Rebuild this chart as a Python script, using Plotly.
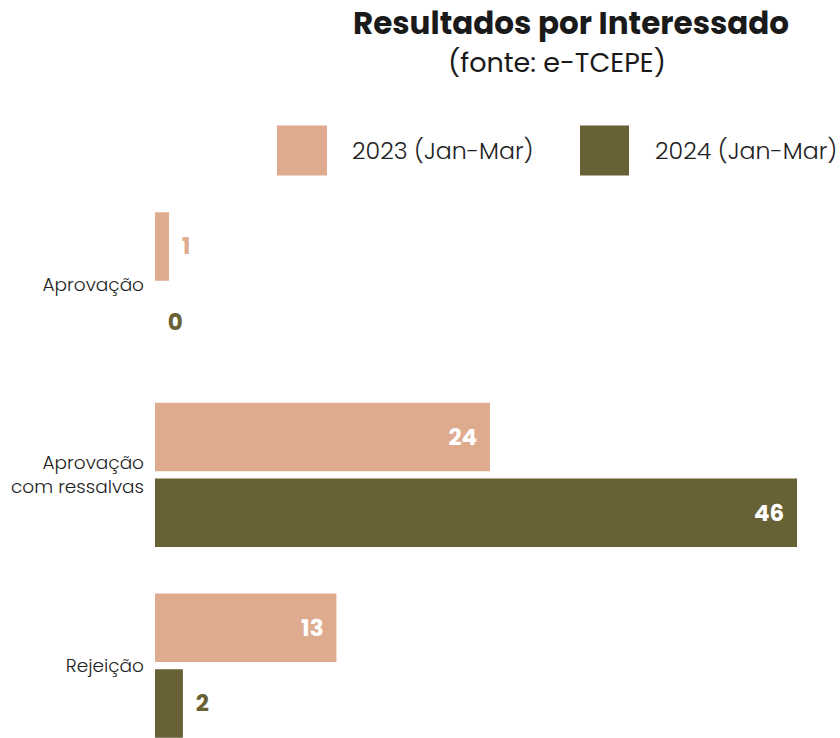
import plotly.graph_objects as go

categories = ["Aprovação", "Aprovação<br>com ressalvas", "Rejeição"]
series_names = ["2023 (Jan-Mar)", "2024 (Jan-Mar)"]
values_2023 = [1, 24, 13]
values_2024 = [0, 46, 2]
pos_2023 = ["outside", "inside", "inside"]
pos_2024 = ["outside", "inside", "outside"]

C23 = "#DEAB8F"
C24 = "#686135"
FONT = "Poppins, Inter, Lato, sans-serif"
NB = "\u00a0\u00a0"


def templ(positions):
    return [(NB + "%{x}") if p == "outside" else ("%{x}" + NB) for p in positions]


fig = go.Figure()
for name, vals, pos, col in [
    (series_names[0], values_2023, pos_2023, C23),
    (series_names[1], values_2024, pos_2024, C24),
]:
    fig.add_trace(go.Bar(
        y=categories, x=vals, orientation="h", name=name,
        marker=dict(color=col, line=dict(width=0)),
        textposition=pos, texttemplate=templ(pos),
        insidetextanchor="end",
        insidetextfont=dict(color="white", size=23, family=FONT, weight="bold"),
        outsidetextfont=dict(color=col, size=23, family=FONT, weight="bold"),
        constraintext="none", cliponaxis=False,
        showlegend=False, hoverinfo="skip",
    ))

L, R, T, B, W, H = 155, 840, 188.5, 738, 840, 738
pw, ph = R - L, B - T


def px_x(p):
    return (p - L) / pw


def px_y(p):
    return (B - p) / ph


annotations = [
    dict(text="<b>Resultados por Interessado</b>", x=px_x(571), y=px_y(22),
         font=dict(size=31, color="#1a1a1a", family=FONT)),
    dict(text="(fonte: e-TCEPE)", x=px_x(557), y=px_y(62),
         font=dict(size=27, color="#1a1a1a", family=FONT)),
    dict(text=series_names[0], x=px_x(350), y=px_y(150), xanchor="left",
         font=dict(size=23.7, color="#222222", family=FONT, weight=300)),
    dict(text=series_names[1], x=px_x(653), y=px_y(150), xanchor="left",
         font=dict(size=23.7, color="#222222", family=FONT, weight=300)),
]
for a in annotations:
    a.update(xref="paper", yref="paper", showarrow=False, yanchor="middle")
    a.setdefault("xanchor", "center")

shapes = [
    dict(type="rect", xref="paper", yref="paper", x0=px_x(277), x1=px_x(327),
         y0=px_y(175), y1=px_y(125), fillcolor=C23, line=dict(width=0)),
    dict(type="rect", xref="paper", yref="paper", x0=px_x(580), x1=px_x(629),
         y0=px_y(175), y1=px_y(125), fillcolor=C24, line=dict(width=0)),
]

fig.update_layout(
    width=W, height=H,
    margin=dict(l=L, r=W - R, t=T, b=H - B, pad=0),
    paper_bgcolor="white", plot_bgcolor="white",
    barmode="group", bargap=0.205, bargroupgap=0.096,
    font=dict(family=FONT, color="#222222"),
    annotations=annotations, shapes=shapes,
    xaxis=dict(range=[0, 46 * pw / 642], visible=False, fixedrange=True),
    yaxis=dict(range=[2.38, -0.5], showgrid=False, zeroline=False, showline=False,
               ticks="", ticklabelstandoff=10,
               tickfont=dict(size=18.5, color="#222222", family=FONT, weight=300)),
)

fig.write_html("out.html", config={"displayModeBar": False},
               post_script="document.body.style.margin='0';document.body.style.overflow='hidden';")
